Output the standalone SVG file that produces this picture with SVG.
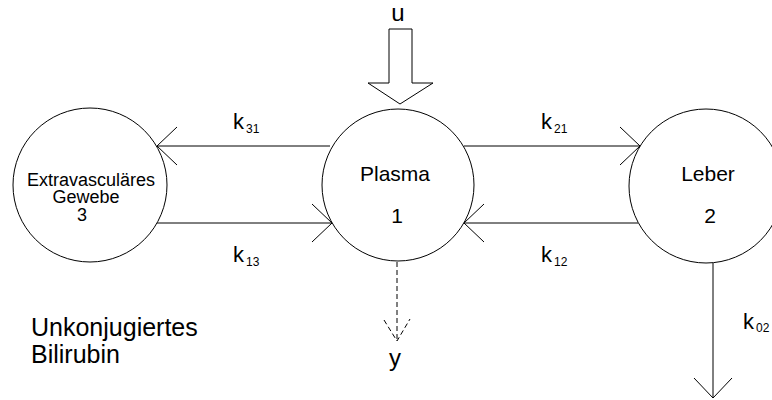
<svg xmlns="http://www.w3.org/2000/svg" width="772" height="400" viewBox="0 0 772 400">
<style>
.node{fill:#fff;stroke:#000;stroke-width:1}
.conn{fill:none;stroke:#000;stroke-width:1}
.dash{fill:none;stroke:#000;stroke-width:1;stroke-dasharray:5,3}
text{font-family:"Liberation Sans",Arial,sans-serif;fill:#000}
.lbl{font-size:21px;text-anchor:middle}
.small{font-size:18px;text-anchor:middle}
.k{font-size:22px}
.sub{font-size:12px}
.big{font-size:25px}
.io{font-size:24px;text-anchor:middle}
</style>
<defs>
<marker id="open" markerUnits="userSpaceOnUse" viewBox="-25 -25 30 50" markerWidth="30" markerHeight="50" refX="0" refY="0" orient="auto" overflow="visible">
<path d="M-20,-19 L0,0 L-20,19" fill="none" stroke="#000" stroke-width="1"/>
</marker>
</defs>
<rect width="772" height="400" fill="#fff"/>
<g id="connectors">
<line class="conn" x1="330" y1="146" x2="157" y2="146" marker-end="url(#open)"/>
<line class="conn" x1="157" y1="223" x2="332" y2="223" marker-end="url(#open)"/>
<line class="conn" x1="464" y1="146" x2="640" y2="146" marker-end="url(#open)"/>
<line class="conn" x1="638" y1="223" x2="464" y2="223" marker-end="url(#open)"/>
<line class="conn" x1="713" y1="263" x2="713" y2="398" marker-end="url(#open)"/>
<polygon class="conn" points="389,29 412,29 412,83 433,83 400,104 368,83 389,83"/>
<line class="dash" x1="397" y1="262" x2="397" y2="341"/>
<path class="dash" d="M384,320 L397,341 L410,319"/>
</g>
<g id="node-gewebe">
<circle class="node" cx="90" cy="185" r="77"/>
<text class="small" x="91" y="185.5">Extravasculäres</text>
<text class="small" x="86" y="203">Gewebe</text>
<text class="small" x="82" y="221">3</text>
</g>
<g id="node-plasma">
<circle class="node" cx="398" cy="185" r="76"/>
<text class="lbl" x="395" y="181">Plasma</text>
<text class="lbl" x="397" y="223">1</text>
</g>
<g id="node-leber">
<circle class="node" cx="706" cy="186" r="77"/>
<text class="lbl" x="708" y="181">Leber</text>
<text class="lbl" x="710" y="223">2</text>
</g>
<g id="labels">
<text class="io" x="398" y="21">u</text>
<text class="io" x="395" y="366">y</text>
<text class="k" x="233" y="129">k</text><text class="sub" x="246" y="133">31</text>
<text class="k" x="233" y="262">k</text><text class="sub" x="246" y="266">13</text>
<text class="k" x="541" y="129">k</text><text class="sub" x="554" y="133">21</text>
<text class="k" x="541" y="262">k</text><text class="sub" x="554" y="266">12</text>
<text class="k" x="743" y="329">k</text><text class="sub" x="756" y="332">02</text>
<text class="big" x="31" y="336">Unkonjugiertes</text>
<text class="big" x="31" y="363">Bilirubin</text>
</g>
</svg>
